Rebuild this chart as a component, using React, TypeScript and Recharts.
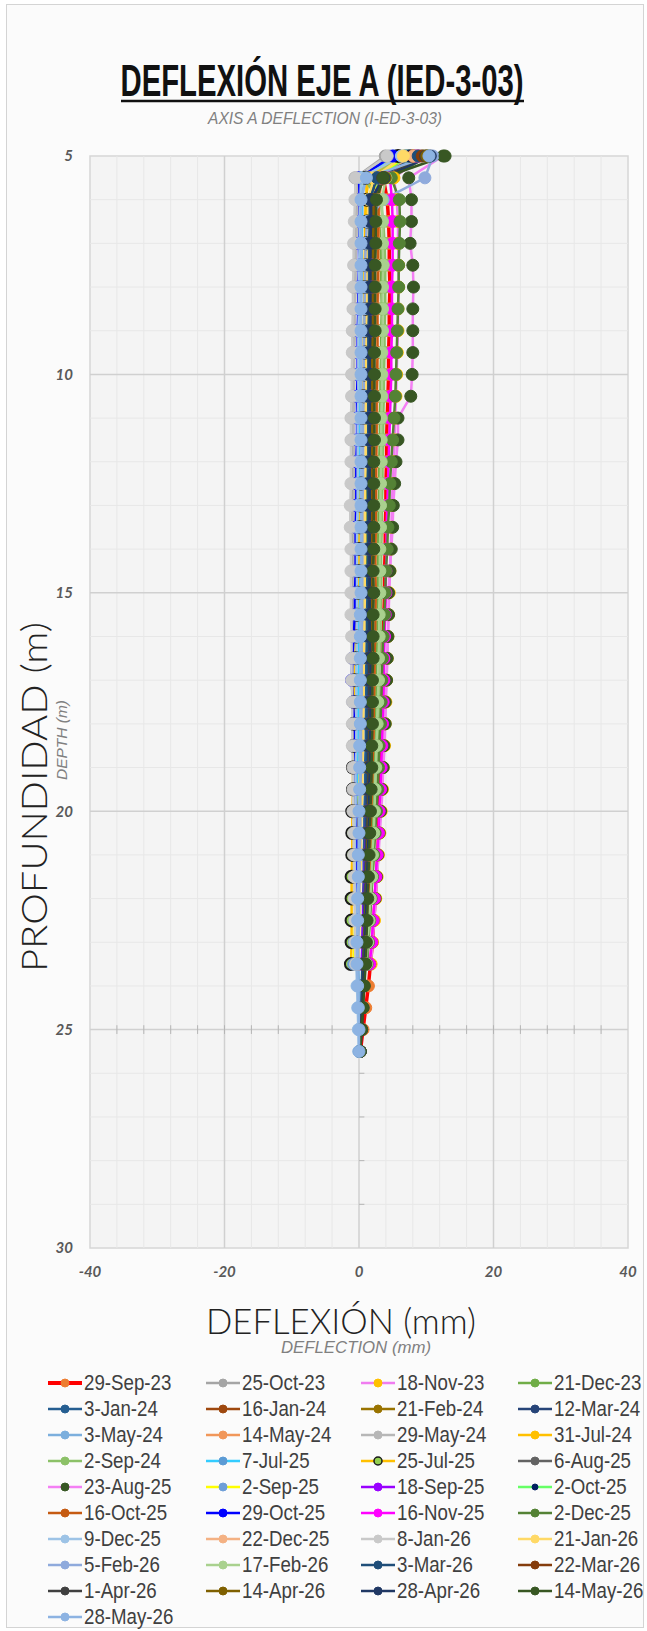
import React from 'react';
import { LineChart, Line, XAxis, YAxis, ReferenceLine, ReferenceArea, Legend } from 'recharts';

// Depth of each inclinometer reading, metres
const DEPTHS = [
  5, 5.5, 6, 6.5, 7, 7.5, 8, 8.5, 9, 9.5, 10, 10.5, 11, 11.5, 12, 12.5, 13, 13.5, 14, 14.5,
  15, 15.5, 16, 16.5, 17, 17.5, 18, 18.5, 19, 19.5, 20, 20.5, 21, 21.5, 22, 22.5, 23, 23.5,
  24, 24.5, 25, 25.5,
];

const DATES = [
  '29-Sep-23', '25-Oct-23', '18-Nov-23', '21-Dec-23',
  '3-Jan-24', '16-Jan-24', '21-Feb-24', '12-Mar-24',
  '3-May-24', '14-May-24', '29-May-24', '31-Jul-24',
  '2-Sep-24', '7-Jul-25', '25-Jul-25', '6-Aug-25',
  '23-Aug-25', '2-Sep-25', '18-Sep-25', '2-Oct-25',
  '16-Oct-25', '29-Oct-25', '16-Nov-25', '2-Dec-25',
  '9-Dec-25', '22-Dec-25', '8-Jan-26', '21-Jan-26',
  '5-Feb-26', '17-Feb-26', '3-Mar-26', '22-Mar-26',
  '1-Apr-26', '14-Apr-26', '28-Apr-26', '14-May-26',
  '28-May-26',
];

// Deflection (mm), listed from the top of the casing down
const sep29_23 = [8.8, 3.6, 4.2, 4.4, 4.5, 4.5, 4.6, 4.5, 4.5, 4.4, 4.4, 4.3, 4.2, 4.1, 4.1, 4.0, 4.0, 3.9, 3.9, 3.8, 3.8, 3.7, 3.6, 3.6, 3.5, 3.5, 3.4, 3.3, 3.2, 3.1, 3.0, 2.9, 2.8, 2.6, 2.4, 2.2, 2.0, 1.7, 1.4, 1.0, 0.6, 0.2];
const oct25_23 = [3.9, -0.6, -0.4, -0.5, -0.6, -0.7, -0.8, -0.8, -0.9, -0.9, -1.0, -1.0, -1.1, -1.1, -1.0, -1.0, -1.1, -1.1, -1.0, -1.0, -1.0, -0.9, -0.9, -1.0, -0.9, -0.9, -0.8, -0.8, -0.8, -0.7, -0.7, -0.7, -0.6, -0.6, -0.5, -0.5, -0.4, -0.4];
const nov18_23 = [9.6, 5.2, 5.6, 5.8, 5.8, 5.9, 5.9, 5.8, 5.8, 5.7, 5.6, 5.5, 5.4, 5.3, 5.2, 5.0, 4.9, 4.8, 4.7, 4.6, 4.5, 4.4, 4.3, 4.2, 4.1, 4.0, 3.9, 3.8, 3.6, 3.5, 3.3, 3.1, 2.9, 2.7, 2.5, 2.3, 2.0, 1.8];
const dec21_23 = [7.4, 1.2, 2.6, 3.0, 3.2, 3.3, 3.3, 3.4, 3.3, 3.3, 3.2, 3.2, 3.1, 3.1, 3.0, 3.0, 2.9, 2.9, 2.8, 2.8, 2.8, 2.7, 2.7, 2.6, 2.5, 2.5, 2.4, 2.3, 2.2, 2.1, 2.0, 1.9, 1.7, 1.6, 1.4, 1.2, 1.0, 0.8];
const jan03_24 = [6.8, 2.4, 1.6, 1.5, 1.5, 1.6, 1.5, 1.5, 1.4, 1.4, 1.4, 1.3, 1.3, 1.3, 1.2, 1.2, 1.2, 1.2, 1.1, 1.1, 1.2, 1.1, 1.1, 1.1, 1.0, 1.0, 1.0, 1.0, 0.9, 0.9, 0.8, 0.8, 0.7, 0.7, 0.6, 0.6, 0.5, 0.5, 0.4, 0.3, 0.2, 0.1];
const jan16_24 = [7.9, 3.0, 2.4, 2.3, 2.2, 2.2, 2.1, 2.1, 2.0, 2.0, 2.0, 1.9, 1.9, 1.9, 1.8, 1.8, 1.8, 1.8, 1.7, 1.7, 1.8, 1.7, 1.7, 1.6, 1.6, 1.5, 1.5, 1.5, 1.4, 1.3, 1.3, 1.2, 1.1, 1.0, 0.9, 0.8, 0.7, 0.6];
const feb21_24 = [8.2, 3.1, 2.7, 2.6, 2.6, 2.5, 2.5, 2.5, 2.4, 2.4, 2.4, 2.3, 2.3, 2.3, 2.2, 2.2, 2.2, 2.2, 2.1, 2.1, 2.2, 2.1, 2.0, 2.0, 1.9, 1.9, 1.8, 1.8, 1.7, 1.6, 1.5, 1.4, 1.3, 1.2, 1.1, 0.9, 0.8, 0.7];
const mar12_24 = [7.2, 2.6, 1.9, 1.8, 1.8, 1.8, 1.7, 1.7, 1.7, 1.6, 1.6, 1.6, 1.6, 1.5, 1.5, 1.5, 1.5, 1.5, 1.5, 1.5, 1.5, 1.5, 1.5, 1.6, 1.6, 1.6, 1.6, 1.5, 1.5, 1.4, 1.3, 1.2, 1.1, 1.0, 0.9, 0.8, 0.7, 0.6, 0.5, 0.4, 0.3, 0.1];
const may03_24 = [9.5, 0.8, 0.5, 0.5, 0.4, 0.4, 0.4, 0.3, 0.3, 0.3, 0.3, 0.3, 0.3, 0.2, 0.3, 0.3, 0.3, 0.2, 0.2, 0.3, 0.3, 0.2, 0.2, 0.2, 0.2, 0.2, 0.1, 0.1, 0.1, 0.0, 0.0, -0.1, -0.2, -0.2, -0.2, -0.2, -0.1, -0.1, 0.0, 0.0, 0.0, 0.0];
const may14_24 = [8.6, 3.4, 3.0, 3.0, 2.9, 2.9, 2.9, 2.8, 2.8, 2.8, 2.7, 2.7, 2.7, 2.6, 2.6, 2.6, 2.5, 2.5, 2.5, 2.4, 2.5, 2.4, 2.4, 2.3, 2.3, 2.2, 2.2, 2.1, 2.0, 1.9, 1.8, 1.7, 1.6, 1.5, 1.3, 1.2, 1.0, 0.9];
const may29_24 = [4.5, -0.3, -0.2, -0.3, -0.4, -0.5, -0.5, -0.6, -0.6, -0.7, -0.7, -0.7, -0.8, -0.8, -0.7, -0.7, -0.8, -0.8, -0.7, -0.7, -0.7, -0.7, -0.6, -0.7, -0.6, -0.6, -0.6, -0.5, -0.5, -0.5, -0.5, -0.4, -0.4, -0.4, -0.3, -0.3, -0.3, -0.2];
const jul31_24 = [6.0, 1.5, 1.0, 0.9, 0.9, 0.8, 0.8, 0.8, 0.7, 0.7, 0.7, 0.6, 0.6, 0.6, 0.6, 0.5, 0.5, 0.5, 0.5, 0.4, 0.4, 0.4, 0.3, 0.3, 0.3, 0.2, 0.2, 0.1, 0.1, 0.0, 0.0, -0.1, -0.1, -0.2, -0.2, -0.3, -0.3, -0.4];
const sep02_24 = [7.0, 0.5, 3.2, 3.6, 3.8, 3.9, 3.9, 3.9, 3.8, 3.8, 3.7, 3.7, 3.6, 3.6, 3.5, 3.5, 3.4, 3.4, 3.3, 3.3, 3.3, 3.2, 3.2, 3.1, 3.0, 3.0, 2.9, 2.8, 2.7, 2.6, 2.5, 2.3, 2.2, 2.0, 1.8, 1.6, 1.4, 1.2];
const jul07_25 = [5.2, 0.2, 0.4, 0.4, 0.3, 0.3, 0.3, 0.2, 0.2, 0.2, 0.2, 0.2, 0.1, 0.1, 0.1, 0.1, 0.1, 0.1, 0.0, 0.0, 0.1, 0.0, 0.0, 0.0, -0.1, -0.1, -0.1, -0.1, -0.2, -0.2, -0.2, -0.3, -0.3, -0.3, -0.3, -0.4, -0.4, -0.4];
const jul25_25 = [5.8, 1.0, 1.2, 1.2, 1.1, 1.1, 1.0, 1.0, 0.9, 0.9, 0.8, 0.7, 0.6, 0.5, 0.4, 0.3, 0.2, 0.1, 0.0, -0.1, -0.2, -0.3, -0.4, -0.5, -0.6, -0.7, -0.8, -0.8, -0.9, -0.9, -1.0, -1.0, -1.0, -1.1, -1.1, -1.1, -1.1, -1.2];
const aug06_25 = [7.5, 2.9, 2.2, 2.1, 2.1, 2.0, 2.0, 2.0, 2.0, 1.9, 1.9, 1.9, 1.9, 1.8, 1.8, 1.8, 1.8, 1.7, 1.7, 1.7, 1.8, 1.7, 1.7, 1.6, 1.6, 1.5, 1.5, 1.4, 1.4, 1.3, 1.2, 1.1, 1.0, 0.9, 0.8, 0.7, 0.6, 0.5];
const aug23_25 = [12.5, 7.4, 7.8, 7.8, 7.6, 8.0, 8.1, 8.0, 8.0, 8.0, 7.9, 7.7, 5.8, 5.8, 5.5, 5.3, 5.1, 5.0, 4.8, 4.6, 4.4, 4.4, 4.3, 4.2, 4.1, 3.9, 3.9, 3.7, 3.6, 3.4, 3.2, 3.0, 2.8, 2.6, 2.4, 2.1, 1.9, 1.6];
const sep02_25 = [7.0, 2.8, 2.2, 2.1, 2.1, 2.0, 2.0, 1.9, 1.9, 1.8, 1.8, 1.7, 1.6, 1.5, 1.4, 1.3, 1.2, 1.1, 1.0, 0.9, 0.8, 0.7, 0.6, 0.5, 0.4, 0.3, 0.3, 0.2, 0.1, 0.0, -0.1, -0.2, -0.3, -0.4, -0.5, -0.6, -0.7, -0.8];
const sep18_25 = [8.4, 3.3, 2.0, 2.0, 1.9, 1.9, 1.9, 1.8, 1.8, 1.8, 1.8, 1.7, 1.7, 1.7, 1.7, 1.6, 1.6, 1.6, 1.6, 1.6, 1.6, 1.6, 1.5, 1.5, 1.5, 1.4, 1.4, 1.3, 1.3, 1.2, 1.1, 1.0, 0.9, 0.8, 0.7, 0.6, 0.5, 0.4];
const oct02_25 = [7.6, 3.0, 2.4, 2.4, 2.3, 2.3, 2.3, 2.2, 2.2, 2.2, 2.1, 2.1, 2.1, 2.0, 2.0, 2.0, 2.0, 2.0, 1.9, 1.9, 2.0, 1.9, 1.9, 1.8, 1.8, 1.7, 1.7, 1.6, 1.6, 1.5, 1.4, 1.3, 1.2, 1.1, 1.0, 0.9, 0.8, 0.6];
const oct16_25 = [8.0, 3.2, 2.9, 2.9, 2.8, 2.8, 2.8, 2.7, 2.7, 2.7, 2.7, 2.6, 2.6, 2.6, 2.5, 2.5, 2.5, 2.5, 2.4, 2.4, 2.5, 2.4, 2.4, 2.3, 2.3, 2.2, 2.2, 2.1, 2.0, 1.9, 1.8, 1.7, 1.6, 1.5, 1.4, 1.2, 1.1, 1.0];
const oct29_25 = [5.0, 0.0, 0.1, 0.1, 0.0, 0.0, -0.1, -0.1, -0.2, -0.2, -0.2, -0.3, -0.3, -0.3, -0.4, -0.4, -0.4, -0.5, -0.5, -0.5, -0.6, -0.6, -0.8, -1.0, -1.1, -0.9, -0.7, -0.6, -0.5, -0.5, -0.4, -0.4, -0.3, -0.3, -0.3, -0.2, -0.2, -0.2];
const nov16_25 = [9.0, 4.6, 4.9, 5.0, 5.0, 5.0, 4.9, 4.9, 4.9, 4.8, 4.8, 4.7, 4.6, 4.5, 4.4, 4.3, 4.2, 4.1, 4.1, 4.0, 4.0, 3.9, 3.8, 3.7, 3.7, 3.6, 3.5, 3.4, 3.3, 3.2, 3.0, 2.9, 2.7, 2.5, 2.3, 2.1, 1.9, 1.6];
const dec02_25 = [10.2, 4.8, 6.0, 6.1, 6.0, 5.9, 5.9, 5.8, 5.7, 5.6, 5.5, 5.4, 5.2, 5.0, 4.8, 4.6, 4.5, 4.3, 4.2, 4.0, 3.9, 3.8, 3.6, 3.5, 3.4, 3.3, 3.2, 3.0, 2.9, 2.8, 2.6, 2.4, 2.2, 2.0, 1.8, 1.6, 1.4, 1.2];
const dec09_25 = [6.3, 0.3, 0.2, 0.1, 0.1, 0.0, 0.0, 0.0, -0.1, -0.1, -0.1, -0.1, -0.2, -0.2, -0.2, -0.2, -0.2, -0.3, -0.3, -0.3, -0.3, -0.3, -0.3, -0.4, -0.4, -0.4, -0.4, -0.4, -0.5, -0.5, -0.5, -0.6, -0.6, -0.6, -0.5, -0.5, -0.4, -0.4, -0.3, -0.2, -0.1, 0.0];
const dec22_25 = [8.1, 3.1, 2.6, 2.5, 2.5, 2.5, 2.4, 2.4, 2.4, 2.4, 2.3, 2.3, 2.3, 2.3, 2.2, 2.2, 2.2, 2.2, 2.1, 2.1, 2.2, 2.1, 2.1, 2.0, 2.0, 1.9, 1.9, 1.8, 1.7, 1.6, 1.6, 1.5, 1.4, 1.3, 1.2, 1.0, 0.9, 0.8];
const jan08_26 = [4.2, -0.5, -0.6, -0.7, -0.8, -0.8, -0.9, -0.9, -1.0, -1.0, -1.1, -1.1, -1.2, -1.2, -1.2, -1.2, -1.3, -1.3, -1.2, -1.2, -1.2, -1.2, -1.1, -1.1, -1.1, -1.0, -1.0, -1.0, -0.9, -0.9, -0.9, -0.8, -0.8, -0.7, -0.7, -0.6, -0.6, -0.5];
const jan21_26 = [6.6, 2.2, 1.4, 1.3, 1.3, 1.2, 1.2, 1.2, 1.1, 1.1, 1.1, 1.0, 1.0, 1.0, 1.0, 0.9, 0.9, 0.9, 0.9, 0.8, 0.9, 0.8, 0.8, 0.7, 0.7, 0.7, 0.6, 0.6, 0.5, 0.5, 0.4, 0.3, 0.3, 0.2, 0.1, 0.1, 0.0, -0.1];
const feb05_26 = [11.0, 9.8, 3.6, 1.2, 1.0, 0.9, 0.9, 0.8, 0.8, 0.7, 0.7, 0.7, 0.6, 0.6, 0.6, 0.6, 0.5, 0.5, 0.5, 0.5, 0.5, 0.5, 0.4, 0.4, 0.4, 0.4, 0.3, 0.3, 0.3, 0.2, 0.2, 0.2, 0.1, 0.1, 0.0, 0.0, -0.1, -0.1];
const feb17_26 = [9.2, 4.0, 3.4, 3.5, 3.5, 3.6, 3.5, 3.5, 3.5, 3.4, 3.4, 3.4, 3.3, 3.3, 3.3, 3.2, 3.2, 3.2, 3.1, 3.1, 3.1, 3.0, 3.0, 2.9, 2.9, 2.8, 2.7, 2.6, 2.5, 2.4, 2.3, 2.2, 2.0, 1.9, 1.7, 1.5, 1.3, 1.1];
const mar03_26 = [8.8, 2.7, 1.6, 1.6, 1.5, 1.5, 1.5, 1.5, 1.4, 1.4, 1.4, 1.4, 1.4, 1.4, 1.4, 1.3, 1.3, 1.3, 1.3, 1.3, 1.4, 1.3, 1.3, 1.3, 1.3, 1.3, 1.2, 1.2, 1.2, 1.1, 1.1, 1.0, 1.0, 0.9, 0.8, 0.8, 0.7, 0.6, 0.5, 0.4, 0.3, 0.1];
const mar22_26 = [9.4, 3.8, 2.3, 2.3, 2.2, 2.2, 2.2, 2.2, 2.1, 2.1, 2.1, 2.1, 2.1, 2.0, 2.0, 2.0, 2.0, 2.0, 1.9, 1.9, 2.0, 1.9, 1.9, 1.8, 1.8, 1.8, 1.7, 1.7, 1.6, 1.5, 1.5, 1.4, 1.3, 1.2, 1.1, 1.0, 0.9, 0.8];
const apr01_26 = [9.9, 3.5, 1.9, 1.9, 1.8, 1.8, 1.8, 1.8, 1.8, 1.7, 1.7, 1.7, 1.7, 1.7, 1.7, 1.6, 1.6, 1.6, 1.6, 1.6, 1.6, 1.6, 1.6, 1.5, 1.5, 1.5, 1.5, 1.4, 1.4, 1.3, 1.3, 1.2, 1.1, 1.1, 1.0, 0.9, 0.8, 0.7, 0.6, 0.5, 0.3, 0.2];
const apr14_26 = [10.1, 3.9, 2.1, 2.1, 2.1, 2.0, 2.0, 2.0, 2.0, 2.0, 1.9, 1.9, 1.9, 1.9, 1.9, 1.8, 1.8, 1.8, 1.8, 1.8, 1.8, 1.8, 1.7, 1.7, 1.7, 1.7, 1.6, 1.6, 1.5, 1.5, 1.4, 1.3, 1.2, 1.1, 1.0, 0.9, 0.8, 0.7];
const apr28_26 = [10.6, 3.7, 1.8, 1.8, 1.7, 1.7, 1.7, 1.7, 1.7, 1.6, 1.6, 1.6, 1.6, 1.6, 1.6, 1.6, 1.6, 1.6, 1.6, 1.6, 1.6, 1.6, 1.6, 1.7, 1.7, 1.7, 1.7, 1.6, 1.6, 1.5, 1.5, 1.4, 1.3, 1.2, 1.1, 1.0, 0.9, 0.8, 0.7, 0.6, 0.4, 0.2];
const may14_26 = [12.8, 3.6, 2.6, 2.5, 2.5, 2.4, 2.4, 2.4, 2.4, 2.3, 2.3, 2.3, 2.3, 2.3, 2.2, 2.2, 2.2, 2.2, 2.2, 2.1, 2.2, 2.1, 2.1, 2.1, 2.0, 2.0, 2.0, 1.9, 1.9, 1.8, 1.7, 1.6, 1.5, 1.4, 1.3, 1.2, 1.1, 1.0, 0.8, 0.6, 0.4, 0.2];
const may28_26 = [10.4, 1.1, 0.3, 0.3, 0.3, 0.3, 0.3, 0.3, 0.3, 0.3, 0.3, 0.3, 0.3, 0.3, 0.3, 0.3, 0.3, 0.3, 0.3, 0.3, 0.3, 0.2, 0.2, 0.2, 0.2, 0.2, 0.2, 0.1, 0.1, 0.1, 0.0, 0.0, -0.1, -0.1, -0.2, -0.2, -0.3, -0.3, -0.2, -0.1, 0.0, 0.0];

const READINGS = [
  sep29_23, oct25_23, nov18_23, dec21_23, jan03_24, jan16_24, feb21_24, mar12_24,
  may03_24, may14_24, may29_24, jul31_24, sep02_24, jul07_25, jul25_25, aug06_25,
  aug23_25, sep02_25, sep18_25, oct02_25, oct16_25, oct29_25, nov16_25, dec02_25,
  dec09_25, dec22_25, jan08_26, jan21_26, feb05_26, feb17_26, mar03_26, mar22_26,
  apr01_26, apr14_26, apr28_26, may14_26, may28_26,
];

const X_TICKS = [-40, -20, 0, 20, 40];
const Y_TICKS = [5, 10, 15, 20, 25, 30];
const X_MAJOR = [-20, 0, 20];
const Y_MAJOR = [10, 15, 20, 25];
const X_MINOR = [-36, -32, -28, -24, -16, -12, -8, -4, 4, 8, 12, 16, 24, 28, 32, 36];
const Y_MINOR = [6, 7, 8, 9, 11, 12, 13, 14, 16, 17, 18, 19, 21, 22, 23, 24, 26, 27, 28, 29];

const LINE_COLORS = [
  '#ff0000', '#a5a5a5', '#f07cf0', '#70ad47',
  '#255e91', '#9e480e', '#997300', '#264478',
  '#7cafdd', '#f1975a', '#b7b7b7', '#ffc000',
  '#8cc168', '#33ccff', '#ffc000', '#636363',
  '#f47ff4', '#ffff00', '#9900ff', '#66ff66',
  '#c55a11', '#0000ff', '#ff00ff', '#548235',
  '#9dc3e6', '#f4b183', '#c9c9c9', '#ffd966',
  '#8faadc', '#a9d18e', '#1f4e79', '#843c0c',
  '#404040', '#7f6000', '#203864', '#385723',
  '#8db3e2',
];

const DOT_COLORS = LINE_COLORS.map((c, k) => {
  if (k === 0) return '#ed7d31';
  if (k === 2) return '#ffc000';
  if (k === 13) return '#5b9bd5';
  if (k === 14) return '#92d050';
  if (k === 16) return '#375623';
  if (k === 17) return '#6f9fd8';
  if (k === 19) return '#002060';
  return c;
});
const DOT_STROKES = DOT_COLORS.map((c, k) => (k === 14 ? '#1a1a1a' : c));

// Arial metrics squeezed sideways stand in for a narrow face
const SANS = "'Liberation Sans', Arial, sans-serif";
const THIN = "Lato, 'Open Sans', sans-serif";

const rows = DEPTHS.map((depth, i) => {
  const row: Record<string, number> = { depth };
  READINGS.forEach((vals, k) => {
    if (i < vals.length) row[`r${k}`] = vals[i];
  });
  return row;
});

const tickStyle = {
  fontFamily: "Lato, sans-serif",
  fontStyle: 'italic',
  fontWeight: 700,
  fontSize: 15,
  fill: '#595959',
};

const LEGEND_COLS = [47, 205, 360, 517];
const LEGEND_ROW = 26;

const LegendGrid = () => (
  <div style={{ position: 'relative', width: 647, height: 270 }}>
    {DATES.map((d, k) => (
      <div
        key={d}
        style={{
          position: 'absolute',
          left: LEGEND_COLS[k % 4],
          top: Math.floor(k / 4) * LEGEND_ROW,
          height: 24,
          display: 'flex',
          alignItems: 'center',
          whiteSpace: 'nowrap',
        }}
      >
        <svg width={36} height={14}>
          <line x1={1} x2={35} y1={7} y2={7} stroke={LINE_COLORS[k]} strokeWidth={k === 0 ? 4 : 2.5} />
          <circle
            cx={18}
            cy={7}
            r={k === 19 ? 3 : 4}
            fill={DOT_COLORS[k]}
            stroke={DOT_STROKES[k]}
            strokeWidth={k === 14 ? 1.5 : 1}
          />
        </svg>
        <span
          style={{
            fontFamily: SANS,
            fontSize: 22,
            color: '#404040',
            marginLeft: 1,
            display: 'inline-block',
            transform: 'scaleX(0.85)',
            transformOrigin: 'left center',
          }}
        >
          {d}
        </span>
      </div>
    ))}
  </div>
);

export default function App() {
  return (
    <div style={{ position: 'absolute', left: 0, top: 0, width: 647, height: 1631, background: '#fff' }}>
      <div
        style={{
          position: 'absolute',
          left: 6,
          top: 4,
          width: 638,
          height: 1624,
          border: '1px solid #d4d4d4',
          background: '#fbfbfb',
          boxSizing: 'border-box',
        }}
      />
      <div style={{ position: 'absolute', left: 0, top: 0 }}>
        <LineChart
          layout="vertical"
          width={647}
          height={1631}
          data={rows}
          margin={{ top: 156, right: 19, bottom: 353, left: 50 }}
        >
          <XAxis
            type="number"
            domain={[-40, 40]}
            ticks={X_TICKS}
            axisLine={false}
            tickLine={false}
            tickSize={0}
            tickMargin={18}
            height={30}
            tick={tickStyle}
          />
          <YAxis
            type="number"
            dataKey="depth"
            domain={[5, 30]}
            ticks={Y_TICKS}
            axisLine={false}
            tickLine={false}
            tickSize={0}
            tickMargin={17}
            width={40}
            tick={tickStyle}
          />
          <ReferenceArea x1={-40} x2={40} y1={5} y2={30} fill="#f4f4f4" fillOpacity={1} stroke="#d6d6d6" strokeWidth={1.5} />
          {X_MINOR.map((v) => (
            <ReferenceLine key={`xm${v}`} x={v} stroke="#e7e7e7" strokeWidth={1} />
          ))}
          {Y_MINOR.map((v) => (
            <ReferenceLine key={`ym${v}`} y={v} stroke="#e7e7e7" strokeWidth={1} />
          ))}
          {X_MAJOR.map((v) => (
            <ReferenceLine key={`xM${v}`} x={v} stroke="#d0d0d0" strokeWidth={1.5} />
          ))}
          {Y_MAJOR.map((v) => (
            <ReferenceLine key={`yM${v}`} y={v} stroke="#d0d0d0" strokeWidth={1.5} />
          ))}
          {/* small tick marks along the y = 25 axis line and the x = 0 axis below it */}
          {X_MINOR.concat(X_MAJOR).map((v) => (
            <ReferenceLine
              key={`xt${v}`}
              segment={[{ x: v, y: 24.9 }, { x: v, y: 25.1 }]}
              stroke="#b5b5b5"
              strokeWidth={1}
            />
          ))}
          {Y_MINOR.filter((v) => v > 25).map((v) => (
            <ReferenceLine
              key={`yt${v}`}
              segment={[{ x: 0, y: v }, { x: 0.8, y: v }]}
              stroke="#b5b5b5"
              strokeWidth={1}
            />
          ))}
          {READINGS.map((_, k) => (
            <Line
              key={DATES[k]}
              dataKey={`r${k}`}
              name={DATES[k]}
              stroke={LINE_COLORS[k]}
              strokeWidth={k === 0 ? 3.5 : 2.5}
              dot={{ r: 6, fill: DOT_COLORS[k], stroke: DOT_STROKES[k], strokeWidth: k === 14 ? 2 : 1 }}
              activeDot={false}
              isAnimationActive={false}
            />
          ))}
          <Legend
            layout="horizontal"
            verticalAlign="middle"
            align="center"
            wrapperStyle={{ top: 1371, left: 0, width: 647 }}
            content={() => <LegendGrid />}
          />
        </LineChart>
      </div>
      <svg width={647} height={1631} style={{ position: 'absolute', left: 0, top: 0, pointerEvents: 'none' }}>
        <text
          x={322}
          y={96}
          textAnchor="middle"
          fontFamily={SANS}
          fontWeight={700}
          fontSize={44}
          fill="#111"
          textLength={403}
          lengthAdjust="spacingAndGlyphs"
        >
          DEFLEXIÓN EJE A (IED-3-03)
        </text>
        <line x1={121} x2={524} y1={101} y2={101} stroke="#111" strokeWidth={2.5} />
        <text
          x={325}
          y={124}
          textAnchor="middle"
          fontFamily={SANS}
          fontStyle="italic"
          fontSize={16}
          fill="#808080"
          textLength={234}
          lengthAdjust="spacingAndGlyphs"
        >
          AXIS A DEFLECTION  (I-ED-3-03)
        </text>
        <text
          transform="translate(47 797) rotate(-90)"
          textAnchor="middle"
          fontFamily={THIN}
          fontWeight={300}
          fontSize={35}
          fill="#222"
          textLength={350}
          lengthAdjust="spacingAndGlyphs"
        >
          PROFUNDIDAD  (m)
        </text>
        <text
          transform="translate(67 740) rotate(-90)"
          textAnchor="middle"
          fontFamily={SANS}
          fontStyle="italic"
          fontSize={15}
          fill="#808080"
          textLength={80}
          lengthAdjust="spacingAndGlyphs"
        >
          DEPTH (m)
        </text>
        <text
          x={341}
          y={1334}
          textAnchor="middle"
          fontFamily={THIN}
          fontWeight={300}
          fontSize={35}
          fill="#222"
          textLength={270}
          lengthAdjust="spacingAndGlyphs"
        >
          DEFLEXIÓN  (mm)
        </text>
        <text
          x={356}
          y={1353}
          textAnchor="middle"
          fontFamily={SANS}
          fontStyle="italic"
          fontSize={16}
          fill="#808080"
          textLength={150}
          lengthAdjust="spacingAndGlyphs"
        >
          DEFLECTION (mm)
        </text>
      </svg>
    </div>
  );
}
